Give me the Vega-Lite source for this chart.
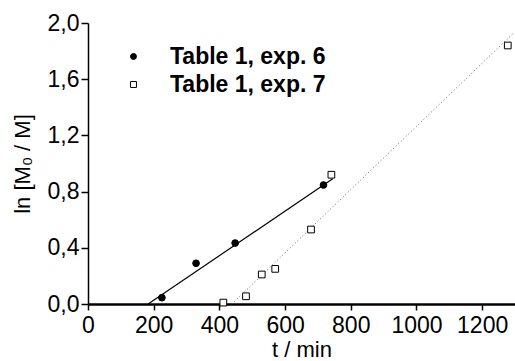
{
  "$schema": "https://vega.github.io/schema/vega-lite/v6.json",
  "width": 427,
  "height": 281,
  "autosize": "none",
  "padding": {"left": 88, "top": 23, "right": 0, "bottom": 57},
  "background": "white",
  "config": {
    "view": {"stroke": null},
    "font": "Liberation Sans",
    "axis": {
      "grid": false,
      "domainColor": "black",
      "tickColor": "black",
      "labelColor": "black",
      "titleColor": "black",
      "labelFont": "Liberation Sans",
      "titleFont": "Liberation Sans",
      "labelFontSize": 23,
      "titleFontSize": 22,
      "titleFontWeight": "normal",
      "tickWidth": 1.5
    },
    "legend": {
      "orient": "none",
      "legendX": 34,
      "legendY": 22,
      "padding": 0,
      "title": null,
      "labelFont": "Liberation Sans",
      "labelFontSize": 23,
      "labelFontWeight": "bold",
      "labelColor": "black",
      "labelOffset": 25,
      "rowPadding": 4,
      "symbolSize": 35,
      "symbolStrokeColor": "black",
      "symbolStrokeWidth": 1
    }
  },
  "layer": [
    {
      "data": {"values": [{"t": 183, "y": 0}, {"t": 745, "y": 0.891}]},
      "mark": {"type": "line", "color": "black", "strokeWidth": 1.2},
      "encoding": {
        "x": {"field": "t", "type": "quantitative"},
        "y": {"field": "y", "type": "quantitative"}
      }
    },
    {
      "data": {"values": [{"t": 438, "y": 0}, {"t": 1296, "y": 1.93}]},
      "mark": {"type": "line", "color": "#666666", "strokeWidth": 1, "strokeDash": [1, 2.5]},
      "encoding": {
        "x": {"field": "t", "type": "quantitative"},
        "y": {"field": "y", "type": "quantitative"}
      }
    },
    {
      "data": {"values": [
        {"series": "Table 1, exp. 6", "t": 225, "y": 0.045},
        {"series": "Table 1, exp. 6", "t": 329, "y": 0.29},
        {"series": "Table 1, exp. 6", "t": 448, "y": 0.434},
        {"series": "Table 1, exp. 6", "t": 717, "y": 0.847},
        {"series": "Table 1, exp. 7", "t": 412, "y": 0.01},
        {"series": "Table 1, exp. 7", "t": 481, "y": 0.055},
        {"series": "Table 1, exp. 7", "t": 529, "y": 0.21},
        {"series": "Table 1, exp. 7", "t": 570, "y": 0.25},
        {"series": "Table 1, exp. 7", "t": 679, "y": 0.53},
        {"series": "Table 1, exp. 7", "t": 741, "y": 0.92},
        {"series": "Table 1, exp. 7", "t": 1278, "y": 1.84}
      ]},
      "mark": {"type": "point", "filled": true, "strokeWidth": 1, "opacity": 1, "size": 45},
      "encoding": {
        "x": {
          "field": "t", "type": "quantitative",
          "scale": {"domain": [0, 1300], "nice": false},
          "axis": {
            "title": "t / min",
            "values": [0, 100, 200, 300, 400, 500, 600, 700, 800, 900, 1000, 1100, 1200, 1300],
            "labelExpr": "datum.value % 200 === 0 ? format(datum.value, 'd') : ''",
            "tickSize": {"condition": {"test": "datum.value % 200 === 0", "value": 6}, "value": 4},
            "domainWidth": 2.5,
            "labelPadding": 4,
            "titlePadding": 2,
            "labelFlush": false
          }
        },
        "y": {
          "field": "y", "type": "quantitative",
          "scale": {"domain": [0, 2], "nice": false},
          "axis": {
            "title": "ln [M₀ / M]",
            "values": [0, 0.2, 0.4, 0.6, 0.8, 1.0, 1.2, 1.4, 1.6, 1.8, 2.0],
            "labelExpr": "round(datum.value * 10) % 4 === 0 ? replace(format(datum.value, '.1f'), '.', ',') : ''",
            "tickSize": {"condition": {"test": "round(datum.value * 10) % 4 === 0", "value": 7}, "value": 4},
            "domainWidth": 1.5,
            "labelPadding": 2,
            "titlePadding": 13,
            "labelFlush": false
          }
        },
        "shape": {
          "field": "series", "type": "nominal",
          "scale": {"domain": ["Table 1, exp. 6", "Table 1, exp. 7"], "range": ["circle", "square"]},
          "legend": {"title": null}
        },
        "fill": {
          "field": "series", "type": "nominal",
          "scale": {"domain": ["Table 1, exp. 6", "Table 1, exp. 7"], "range": ["black", "white"]},
          "legend": {"title": null}
        },
        "stroke": {
          "field": "series", "type": "nominal",
          "scale": {"domain": ["Table 1, exp. 6", "Table 1, exp. 7"], "range": ["black", "black"]},
          "legend": {"title": null}
        }
      }
    }
  ]
}
